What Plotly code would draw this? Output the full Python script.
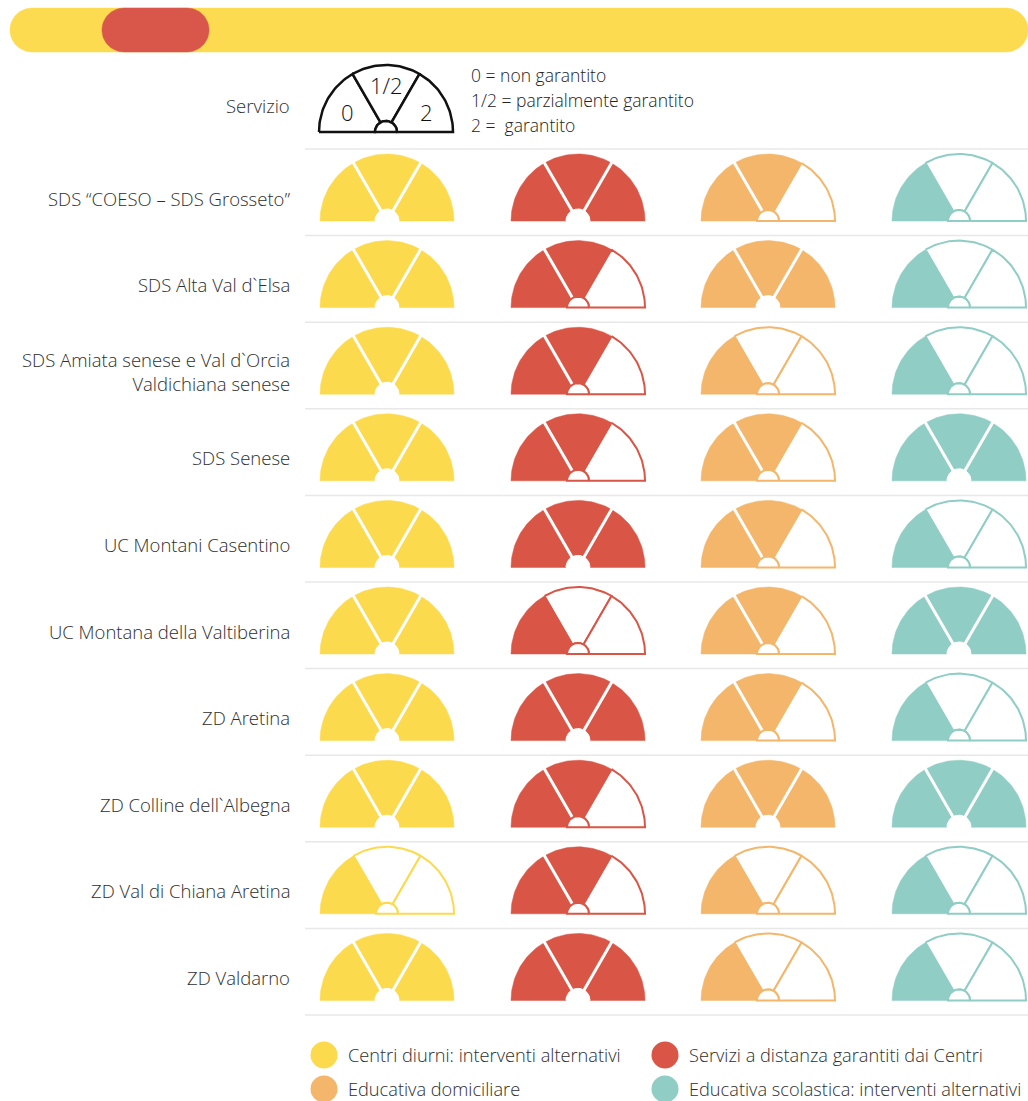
import numpy as np
import plotly.graph_objects as go

# ---------------- data ----------------
areas = [
    "SDS “COESO – SDS Grosseto”",
    "SDS Alta Val d`Elsa",
    "SDS Amiata senese e Val d`Orcia<br>Valdichiana senese",
    "SDS Senese",
    "UC Montani Casentino",
    "UC Montana della Valtiberina",
    "ZD Aretina",
    "ZD Colline dell`Albegna",
    "ZD Val di Chiana Aretina",
    "ZD Valdarno",
]
services = [
    "Centri diurni: interventi alternativi",
    "Servizi a distanza garantiti dai Centri",
    "Educativa domiciliare",
    "Educativa scolastica: interventi alternativi",
]
service_colors = ["#FCDA4E", "#D95546", "#F3B66B", "#8FCDC5"]
levels = ["0", "1/2", "2"]
level_desc = ["0 = non garantito", "1/2 = parzialmente garantito", "2 =  garantito"]

centri_diurni = ["2", "2", "2", "2", "2", "2", "2", "2", "0", "2"]
servizi_distanza = ["2", "1/2", "1/2", "1/2", "2", "0", "2", "1/2", "1/2", "2"]
educativa_domiciliare = ["1/2", "2", "0", "1/2", "1/2", "1/2", "1/2", "2", "0", "0"]
educativa_scolastica = ["0", "0", "0", "2", "0", "2", "0", "2", "0", "0"]
series = [centri_diurni, servizi_distanza, educativa_domiciliare, educativa_scolastica]

# ---------------- layout constants ----------------
W, H = 1028, 1101
col_x = [387, 578, 768, 959]
row_sep0, row_h = 149, 86.6
R, r_hub = 67, 11
text_color = "#2E2E2E"
FONT = "Open Sans"
FW = 300

fig = go.Figure()


def arc(cx, by, rad, a0, a1, n=40):
    t = np.radians(np.linspace(a0, a1, n))
    return cx + rad * np.cos(t), by - rad * np.sin(t)


def sector(cx, by, a0, a1):
    xo, yo = arc(cx, by, R, a0, a1)
    xi, yi = arc(cx, by, r_hub, a1, a0, 10)
    xs = np.concatenate([xo, xi, xo[:1]])
    ys = np.concatenate([yo, yi, yo[:1]])
    return xs, ys


def add_poly(xs, ys, fill, line_color, lw):
    fig.add_trace(go.Scatter(x=xs, y=ys, mode="lines", fill="toself",
                             fillcolor=fill,
                             line=dict(color=line_color, width=lw),
                             hoverinfo="skip", showlegend=False))


def add_line(xs, ys, color, lw):
    fig.add_trace(go.Scatter(x=xs, y=ys, mode="lines",
                             line=dict(color=color, width=lw),
                             hoverinfo="skip", showlegend=False))


bounds = [(180, 120), (120, 60), (60, 0)]


def gauge(cx, by, color, level):
    nfill = levels.index(level) + 1
    for k in range(nfill):
        xs, ys = sector(cx, by, *bounds[k])
        add_poly(xs, ys, color, color, 0.5)
    for k in range(nfill - 1):
        a = np.radians(bounds[k][1])
        add_line([cx, cx + (R + 3) * np.cos(a)], [by, by - (R + 3) * np.sin(a)], "white", 3)
    for k in range(nfill, 3):
        xs, ys = sector(cx, by, *bounds[k])
        add_poly(xs, ys, "white", color, 2)
    hx, hy = arc(cx, by, r_hub, 0, 180, 20)
    if nfill == 3:
        hx2, hy2 = arc(cx, by, r_hub + 1, 0, 180, 20)
        add_poly(np.append(hx2, hx2[0]), np.append(hy2, hy2[0]), "white", "white", 1)
    else:
        add_poly(np.append(hx, hx[0]), np.append(hy, hy[0]), "white", color, 2)


def rounded(x0, x1, y0, y1):
    rr = (y1 - y0) / 2
    xa, ya = arc(x0 + rr, (y0 + y1) / 2, rr, 90, 270, 30)
    xb, yb = arc(x1 - rr, (y0 + y1) / 2, rr, -90, 90, 30)
    xs = np.concatenate([xa, xb, xa[:1]])
    ys = np.concatenate([ya, yb, ya[:1]])
    return xs, ys


def font(size, color=text_color):
    return dict(family=FONT, size=size, color=color, weight=FW)


# ---------------- top bar ----------------
xs, ys = rounded(10, 1028, 8, 52)
add_poly(xs, ys, "#FCDB50", "#FCDB50", 0.5)
xs, ys = rounded(102, 209, 8, 52)
add_poly(xs, ys, "#D9564A", "#D9564A", 0.5)

# ---------------- legend gauge ----------------
lcx, lby = 386, 132
for k in range(3):
    xs, ys = sector(lcx, lby, *bounds[k])
    add_poly(xs, ys, "white", "#111111", 2.5)
hx, hy = arc(lcx, lby, r_hub, 0, 180, 20)
add_poly(np.append(hx, hx[0]), np.append(hy, hy[0]), "white", "#111111", 2.5)
lab_pos = [(lcx - 39, lby - 20), (lcx, lby - 47), (lcx + 40, lby - 20)]
for lab, (px, py) in zip(levels, lab_pos):
    fig.add_annotation(x=px, y=py, text=lab, showarrow=False,
                       font=font(22, "#111111"),
                       xanchor="center", yanchor="middle")
for i, t in enumerate(level_desc):
    fig.add_annotation(x=469, y=75 + 25 * i, text=t, showarrow=False,
                       font=font(17.5, "#222222"),
                       xanchor="left", yanchor="middle")
fig.add_annotation(x=292, y=105, text="Servizio", showarrow=False,
                   font=font(18.5), xanchor="right", yanchor="middle")

# ---------------- separators ----------------
for i in range(len(areas) + 1):
    y = row_sep0 + i * row_h
    add_line([305, 1028], [y, y], "#E8E8E8", 1.5)

# ---------------- gauges ----------------
for i, area in enumerate(areas):
    by = row_sep0 + 72 + i * row_h
    fig.add_annotation(x=292, y=by - 23, text=area, showarrow=False, align="right",
                       font=font(18.5), xanchor="right", yanchor="middle")
    for j, vals in enumerate(series):
        gauge(col_x[j], by, service_colors[j], vals[i])

# ---------------- bottom legend ----------------
leg_pos = [(324, 1055), (665, 1055), (324, 1089), (665, 1089)]
for (px, py), name, c in zip(leg_pos, services, service_colors):
    fig.add_trace(go.Scatter(x=[px], y=[py], mode="markers",
                             marker=dict(size=27, color=c, line=dict(width=0)),
                             hoverinfo="skip", showlegend=False))
    fig.add_annotation(x=px + 22, y=py, text=name, showarrow=False,
                       font=font(18.2), xanchor="left", yanchor="middle")

fig.update_layout(
    width=W, height=H, margin=dict(l=0, r=0, t=0, b=0),
    paper_bgcolor="white", plot_bgcolor="white",
    xaxis=dict(range=[0, W], visible=False, fixedrange=True),
    yaxis=dict(range=[H, 0], visible=False, fixedrange=True),
    showlegend=False,
)

fig.write_html("out.html", config={"displayModeBar": False},
               post_script="document.body.style.margin='0';document.body.style.overflow='hidden';")
